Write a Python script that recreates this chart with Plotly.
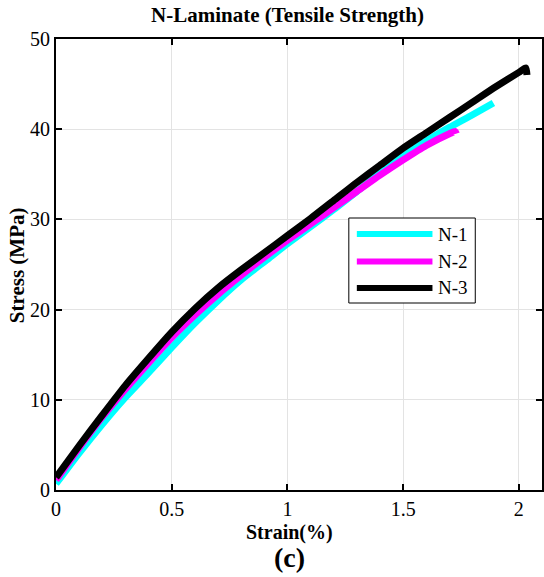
import plotly.graph_objects as go

# Data
strain_n1 = [0.0, 0.1, 0.2, 0.29, 0.4, 0.5, 0.6, 0.7, 0.8, 0.91, 1.0, 1.1, 1.2, 1.3, 1.4, 1.5, 1.6, 1.7, 1.8, 1.89]
stress_n1 = [0.7, 4.1, 7.3, 10.0, 13.0, 15.8, 18.5, 21.0, 23.3, 25.5, 27.3, 29.2, 31.1, 33.1, 35.1, 37.0, 38.7, 40.2, 41.6, 42.9]

strain_n2 = [0.0, 0.1, 0.2, 0.3, 0.4, 0.5, 0.6, 0.7, 0.8, 0.9, 1.0, 1.1, 1.2, 1.3, 1.4, 1.5, 1.6, 1.7, 1.725, 1.73]
stress_n2 = [1.1, 4.7, 8.1, 11.2, 14.1, 16.9, 19.4, 21.7, 23.8, 25.8, 27.7, 29.5, 31.3, 33.1, 34.9, 36.6, 38.2, 39.5, 39.75, 39.5]

strain_n3 = [0.0, 0.1, 0.2, 0.3, 0.4, 0.5, 0.6, 0.7, 0.8, 0.9, 1.0, 1.1, 1.2, 1.3, 1.4, 1.5, 1.6, 1.7, 1.8, 1.9, 2.0, 2.03, 2.035]
stress_n3 = [1.4, 4.9, 8.3, 11.6, 14.6, 17.5, 20.1, 22.4, 24.4, 26.3, 28.2, 30.1, 32.1, 34.1, 36.0, 37.9, 39.6, 41.3, 43.0, 44.7, 46.3, 46.8, 46.0]

series_names = ["N-1", "N-2", "N-3"]
series_colors = ["#00FFFF", "#FF00FF", "#000000"]

x_tickvals = [0, 0.5, 1, 1.5, 2]
x_ticktext = ["0", "0.5", "1", "1.5", "2"]
y_tickvals = [0, 10, 20, 30, 40, 50]
y_ticktext = ["0", "10", "20", "30", "40", "50"]

FONT = "Liberation Serif, Times New Roman, serif"

fig = go.Figure()
for xs, ys, name, col in zip([strain_n1, strain_n2, strain_n3],
                             [stress_n1, stress_n2, stress_n3],
                             series_names, series_colors):
    fig.add_trace(go.Scatter(x=xs, y=ys, mode="lines", name=name,
                             line=dict(color=col, width=7, shape="spline", smoothing=0.6),
                             showlegend=False))

# Manual legend (box, sample lines, labels)
fig.add_shape(type="rect", xref="paper", yref="paper",
              x0=0.6025, x1=0.8627, y0=0.4146, y1=0.6031,
              line=dict(color="black", width=1), fillcolor="white", layer="above")
legend_y = [0.5676, 0.5067, 0.4479]
for name, col, ly in zip(series_names, series_colors, legend_y):
    fig.add_shape(type="line", xref="paper", yref="paper",
                  x0=0.619, x1=0.7746, y0=ly, y1=ly,
                  line=dict(color=col, width=6), layer="above")
    fig.add_annotation(xref="paper", yref="paper", x=0.7828, y=ly,
                       text=name, showarrow=False, xanchor="left", yanchor="middle",
                       font=dict(family=FONT, size=19, color="black"))

# Titles
fig.add_annotation(xref="paper", yref="paper", x=0.4754, y=1.053,
                   text="<b>N-Laminate (Tensile Strength)</b>", showarrow=False,
                   xanchor="center", yanchor="middle",
                   font=dict(family=FONT, size=21, color="black"))
fig.add_annotation(xref="paper", yref="paper", x=0.4795, y=-0.094,
                   text="<b>Strain(%)</b>", showarrow=False,
                   xanchor="center", yanchor="middle",
                   font=dict(family=FONT, size=20, color="black"))
fig.add_annotation(xref="paper", yref="paper", x=0.4795, y=-0.150,
                   text="<b>(c)</b>", showarrow=False,
                   xanchor="center", yanchor="middle",
                   font=dict(family=FONT, size=28, color="black"))
fig.add_annotation(xref="paper", yref="paper", x=-0.0799, y=0.4989,
                   text="<b>Stress (MPa)</b>", showarrow=False, textangle=-90,
                   xanchor="center", yanchor="middle",
                   font=dict(family=FONT, size=21, color="black"))

axis_common = dict(showline=True, linecolor="black", linewidth=2, mirror="ticks",
                   ticks="inside", ticklen=6, tickwidth=2, tickcolor="black",
                   showgrid=True, gridcolor="#e3e3e3", gridwidth=1, zeroline=False,
                   tickfont=dict(family=FONT, size=20, color="black"))

fig.update_xaxes(range=[0, 2.1], tickvals=x_tickvals, ticktext=x_ticktext, **axis_common)
fig.update_yaxes(range=[0, 50], tickvals=y_tickvals, ticktext=y_ticktext, **axis_common)

fig.update_layout(width=544, height=577,
                  margin=dict(l=56, r=0, t=39, b=87),
                  plot_bgcolor="white", paper_bgcolor="white",
                  showlegend=False)

fig.write_html("out.html")
